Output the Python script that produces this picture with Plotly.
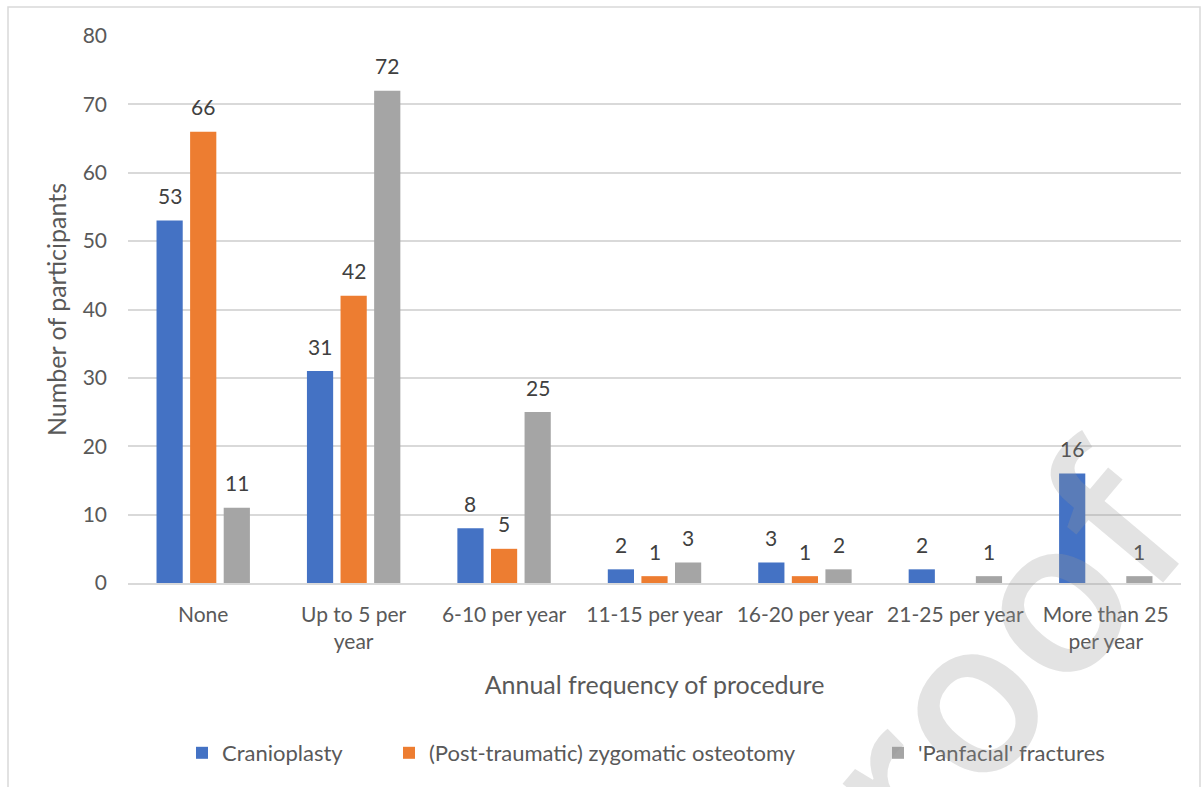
import plotly.graph_objects as go

categories = ["None", "Up to 5 per<br>year", "6-10 per year", "11-15 per year",
              "16-20 per year", "21-25 per year", "More than 25<br>per year"]
cranioplasty = [53, 31, 8, 2, 3, 2, 16]
zygomatic = [66, 42, 5, 1, 1, None, None]
panfacial = [11, 72, 25, 3, 2, 1, 1]

series = [
    ("Cranioplasty", cranioplasty, "#4472C4"),
    ("(Post-traumatic) zygomatic osteotomy", zygomatic, "#ED7D31"),
    ("'Panfacial' fractures", panfacial, "#A5A5A5"),
]

FONT = "Lato"
TXT = "#595959"
LBL = "#404040"

W, H = 1203, 787
ml, mr, mt, mb = 128, 22, 36, 204
pw, ph = W - ml - mr, H - mt - mb
BARGAP, GROUPGAP = 0.33, 0.22
slot = (pw / len(categories)) * (1 - BARGAP) / len(series)


def px(x):
    return (x - ml) / pw


def py(y):
    return (H - mb - y) / ph


# legend positions (left edge of each entry, in pixels)
legend_x = [182, 389, 878]

fig = go.Figure()
annotations = []
for i, (name, vals, color) in enumerate(series):
    lg = "legend" if i == 0 else f"legend{i + 1}"
    fig.add_trace(go.Bar(
        name=name, x=categories, y=vals, marker_color=color,
        marker_line_width=0, legend=lg,
    ))
    for cat, v in zip(categories, vals):
        if v is None:
            continue
        annotations.append(dict(
            x=cat, y=v, xref="x", yref="y", text=str(v), showarrow=False,
            xshift=(i - 1) * slot, yshift=25, yanchor="middle",
            font=dict(family=FONT, size=21, color=LBL),
        ))

# watermark
annotations.append(dict(
    text="proof", xref="paper", yref="paper", x=px(955), y=py(700),
    xanchor="center", yanchor="middle",
    showarrow=False, textangle=-50,
    font=dict(family="Open Sans", size=215, weight=600,
              color="rgba(150,150,150,0.27)"),
))

legend_style = dict(orientation="h", yanchor="middle", y=py(753), xanchor="left",
                    font=dict(family=FONT, size=22, color=TXT),
                    bgcolor="rgba(0,0,0,0)", itemwidth=30)

fig.update_layout(
    width=W, height=H,
    margin=dict(l=ml, r=mr, t=mt, b=mb),
    paper_bgcolor="white", plot_bgcolor="white",
    barmode="group", bargap=BARGAP, bargroupgap=GROUPGAP,
    font=dict(family=FONT, size=21, color=TXT),
    showlegend=True,
    legend=dict(legend_style, x=px(legend_x[0])),
    legend2=dict(legend_style, x=px(legend_x[1])),
    legend3=dict(legend_style, x=px(legend_x[2])),
    xaxis=dict(
        showgrid=False, showline=True, linecolor="#D9D9D9", linewidth=1.5,
        ticks="", ticklabelstandoff=12,
        tickfont=dict(family=FONT, size=21, color=TXT),
        title=dict(text="Annual frequency of procedure", standoff=24,
                   font=dict(family=FONT, size=25, color=TXT)),
    ),
    yaxis=dict(
        range=[0, 80], dtick=10, showgrid=True, gridcolor="#D9D9D9", gridwidth=1.5,
        zeroline=False, showline=False, ticks="", ticklabelstandoff=20,
        tickfont=dict(family=FONT, size=21, color=TXT),
        title=dict(text="Number of participants", standoff=8,
                   font=dict(family=FONT, size=25, color=TXT)),
    ),
    shapes=[dict(type="rect", xref="paper", yref="paper",
                 x0=px(8), x1=px(1200), y0=py(800), y1=py(7),
                 line=dict(color="#D9D9D9", width=1.5), fillcolor="rgba(0,0,0,0)",
                 layer="below")],
    annotations=annotations,
)

fig.write_html("out.html")
